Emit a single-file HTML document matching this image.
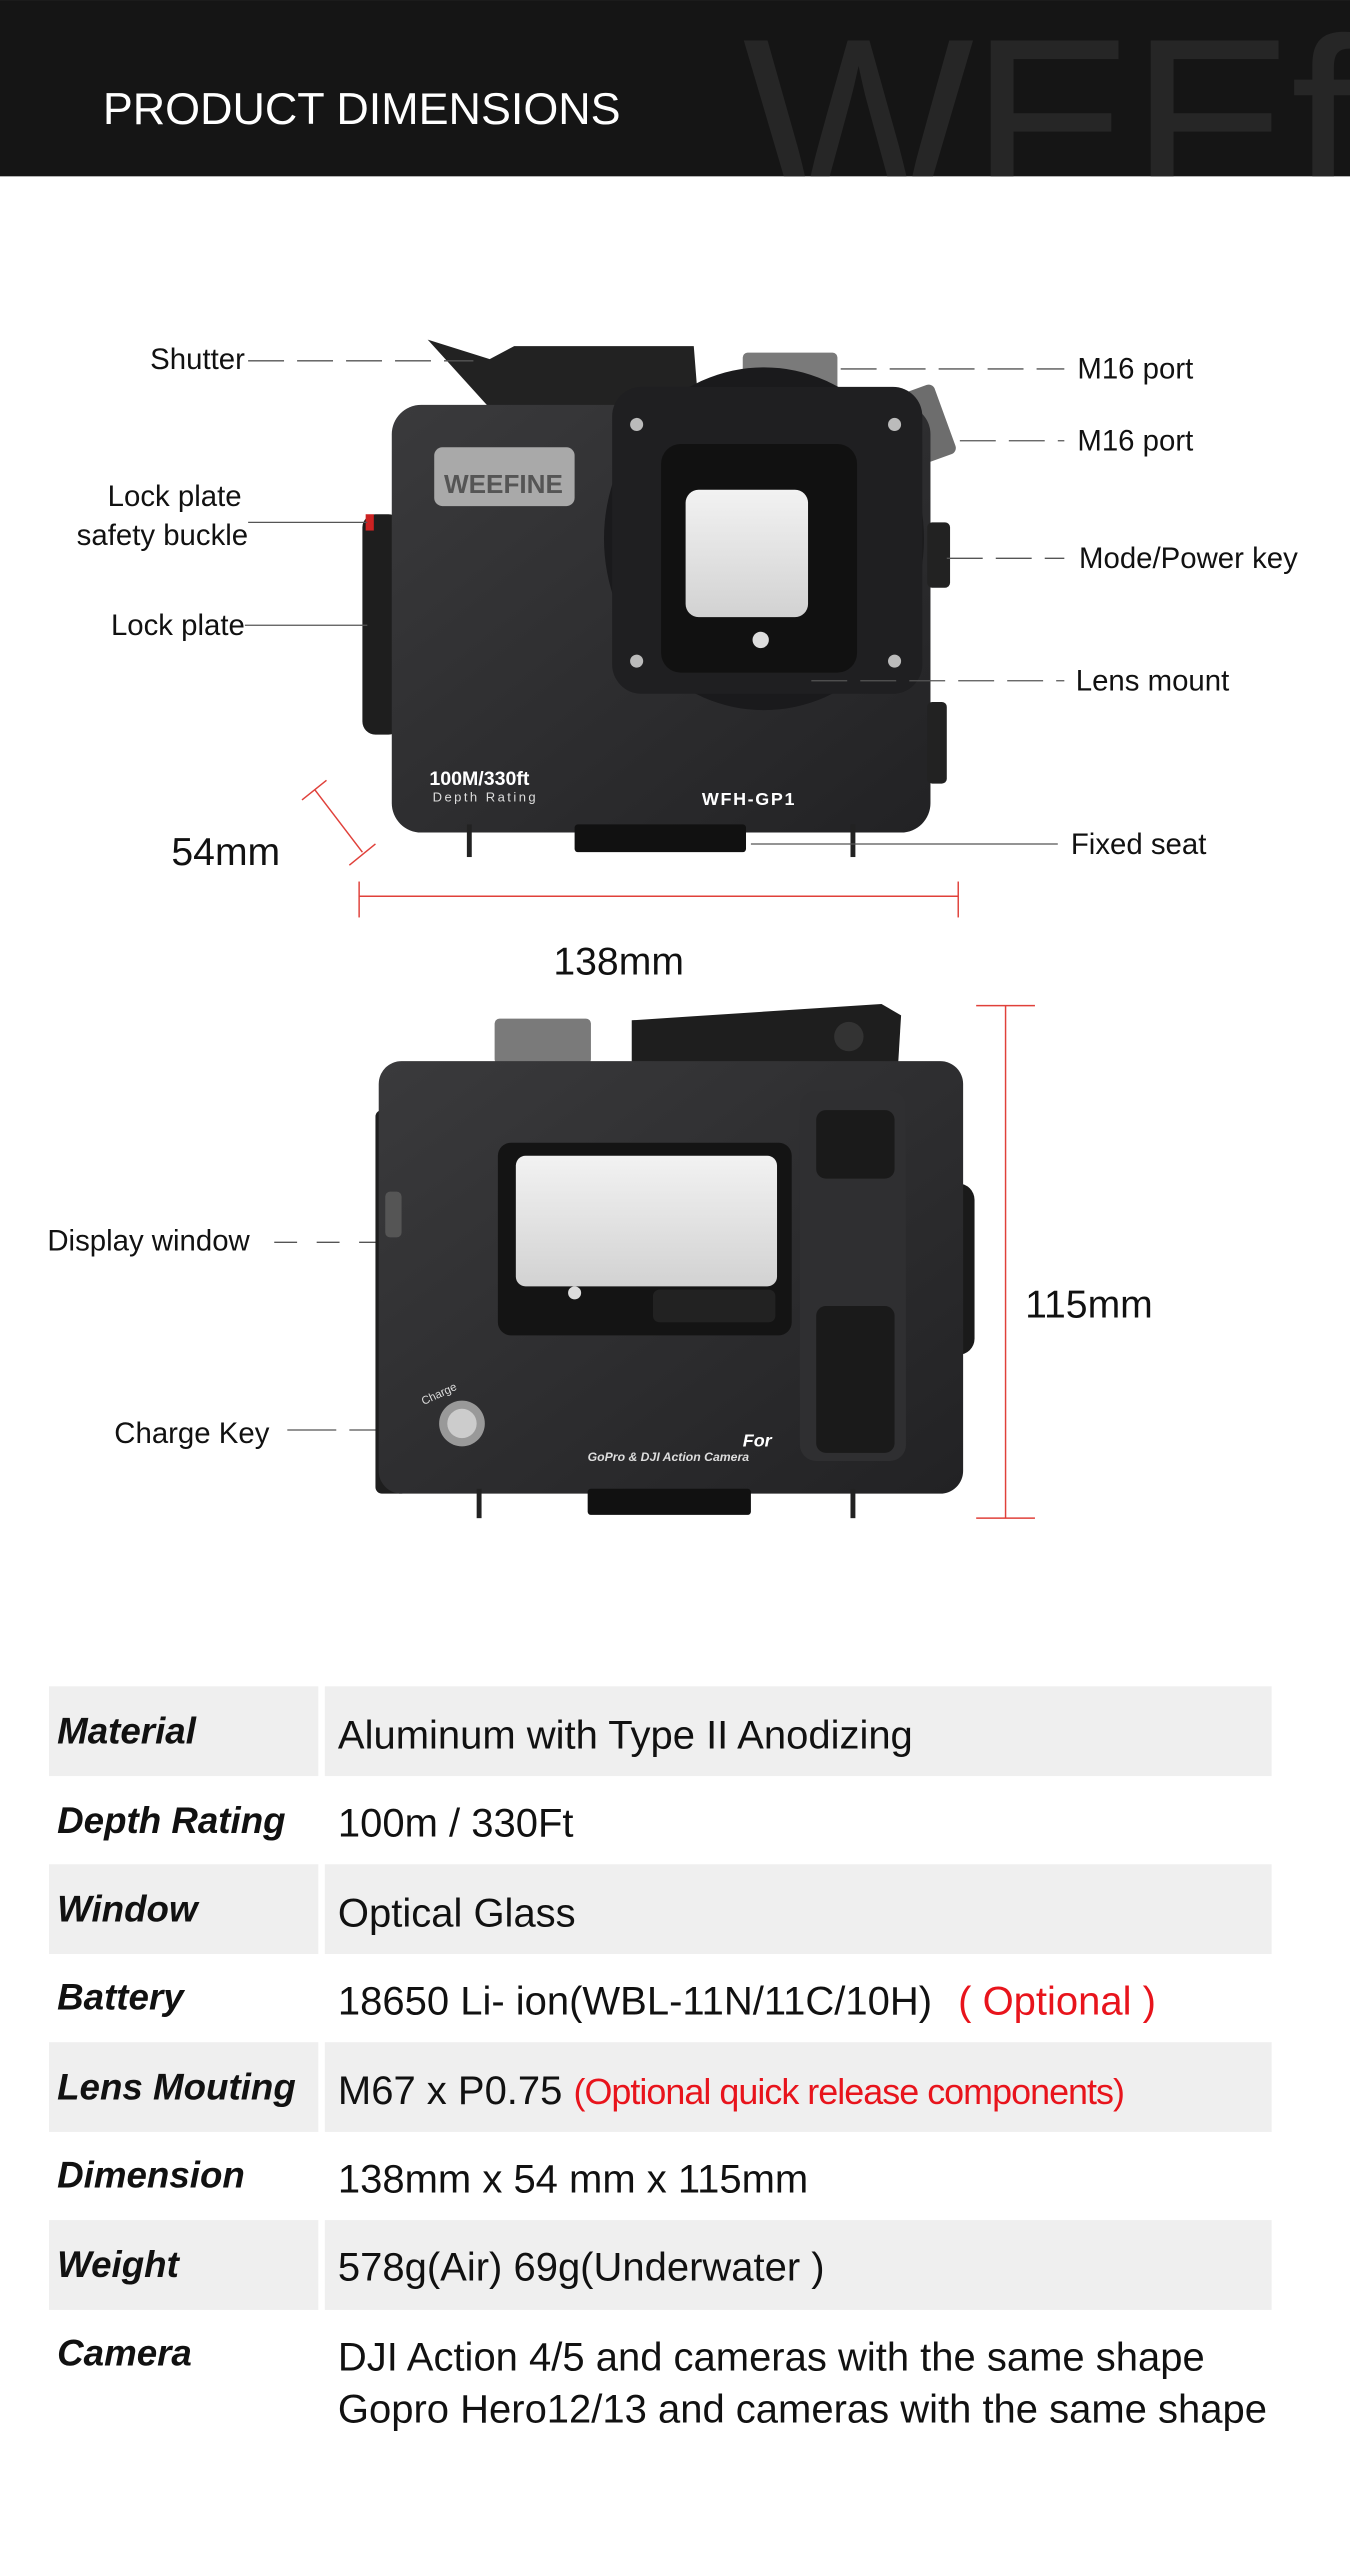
<!DOCTYPE html>
<html><head><meta charset="utf-8"><style>
html,body{margin:0;padding:0;background:#fff;}
svg{display:block;}
</style></head><body>
<svg width="1350" height="2560" viewBox="0 0 827 1568.2" xmlns="http://www.w3.org/2000/svg" font-family="Liberation Sans, sans-serif">
<defs>
<clipPath id="hc"><rect x="0" y="0" width="827" height="108"/></clipPath>
<linearGradient id="gl" x1="0" y1="0" x2="0" y2="1"><stop offset="0" stop-color="#f2f2f2"/><stop offset="1" stop-color="#d2d2d2"/></linearGradient>
<linearGradient id="bd" x1="0" y1="0" x2="1" y2="1"><stop offset="0" stop-color="#3a3a3c"/><stop offset="1" stop-color="#222224"/></linearGradient>
</defs>
<!-- header -->
<rect x="0" y="0" width="827" height="108" fill="#151515"/>
<g clip-path="url(#hc)"><text x="455" y="128" font-size="150" fill="#262626" letter-spacing="-2">WEEfi</text></g>
<text x="63" y="76" font-size="27.5" fill="#fff">PRODUCT DIMENSIONS</text>

<!-- camera 1 -->
<g>
<rect x="222" y="315" width="24" height="135" rx="8" fill="#1e1e1e"/>
<rect x="224" y="315" width="5" height="10" fill="#c22"/>
<path d="M262 208 L300 220 L315 212 L425 212 L428 250 L300 250 Z" fill="#222"/>
<rect x="455" y="216" width="58" height="24" rx="3" fill="#7a7a7a"/>
<rect x="540" y="240" width="40" height="45" rx="4" fill="#6d6d6d" transform="rotate(-20 560 262)"/>
<rect x="240" y="248" width="330" height="262" rx="18" fill="url(#bd)"/>
<rect x="568" y="320" width="14" height="40" rx="3" fill="#222"/>
<rect x="568" y="430" width="12" height="50" rx="3" fill="#222"/>
<rect x="266" y="274" width="86" height="36" rx="5" fill="#a9a9a9"/>
<text x="272" y="302" font-size="16" fill="#555" font-weight="bold">WEEFINE</text>
<ellipse cx="468" cy="330" rx="98" ry="105" fill="#1a1a1c"/>
<rect x="375" y="237" width="190" height="188" rx="18" fill="#1f1f21"/>
<rect x="405" y="272" width="120" height="140" rx="12" fill="#111"/>
<rect x="420" y="300" width="75" height="78" rx="8" fill="url(#gl)"/>
<circle cx="466" cy="392" r="5" fill="#ddd"/>
<circle cx="390" cy="260" r="4" fill="#bbb"/><circle cx="548" cy="260" r="4" fill="#bbb"/>
<circle cx="390" cy="405" r="4" fill="#bbb"/><circle cx="548" cy="405" r="4" fill="#bbb"/>
<text x="263" y="481" font-size="12" fill="#fff" font-weight="bold">100M/330ft</text>
<text x="265" y="491" font-size="8" fill="#ddd" letter-spacing="1.5">Depth Rating</text>
<text x="430" y="493" font-size="11" fill="#fff" font-weight="bold" letter-spacing="1">WFH-GP1</text>
<rect x="352" y="505" width="105" height="17" rx="2" fill="#111"/>
<rect x="286" y="505" width="3" height="20" fill="#222"/><rect x="521" y="505" width="3" height="20" fill="#222"/>
</g>

<!-- labels -->
<g font-size="18" fill="#111">
<text x="92" y="226">Shutter</text>
<text x="660" y="232">M16 port</text>
<text x="660" y="276">M16 port</text>
<text x="148" y="310" text-anchor="end">Lock plate</text>
<text x="152" y="334" text-anchor="end">safety buckle</text>
<text x="150" y="389" text-anchor="end">Lock plate</text>
<text x="661" y="348">Mode/Power key</text>
<text x="659" y="423">Lens mount</text>
<text x="656" y="523">Fixed seat</text>
<text x="29" y="766">Display window</text>
<text x="70" y="884">Charge Key</text>
</g>
<g stroke="#555" stroke-width="0.8" fill="none">
<line x1="152" y1="221" x2="290" y2="221" stroke-dasharray="22,8"/>
<line x1="515" y1="226" x2="652" y2="226" stroke-dasharray="22,8"/>
<line x1="588" y1="270" x2="652" y2="270" stroke-dasharray="22,8"/>
<line x1="152" y1="320" x2="225" y2="320"/>
<line x1="150" y1="383" x2="225" y2="383"/>
<line x1="580" y1="342" x2="652" y2="342" stroke-dasharray="22,8"/>
<line x1="497" y1="417" x2="652" y2="417" stroke-dasharray="22,8"/>
<line x1="460" y1="517" x2="648" y2="517"/>
<line x1="168" y1="761" x2="335" y2="761" stroke-dasharray="14,12"/>
<line x1="176" y1="876" x2="270" y2="876" stroke-dasharray="30,8"/>
</g>

<!-- dimension lines -->
<g stroke="#e0403a" stroke-width="0.9" fill="none">
<line x1="193" y1="484" x2="222" y2="522"/>
<line x1="185" y1="490" x2="200" y2="478"/>
<line x1="214" y1="530" x2="230" y2="517"/>
<line x1="220" y1="549" x2="587" y2="549"/>
<line x1="220" y1="540" x2="220" y2="562"/>
<line x1="587" y1="540" x2="587" y2="562"/>
<line x1="616" y1="616" x2="616" y2="930"/>
<line x1="598" y1="616" x2="634" y2="616"/>
<line x1="598" y1="930" x2="634" y2="930"/>
</g>
<g font-size="24" fill="#111">
<text x="105" y="530">54mm</text>
<text x="339" y="597">138mm</text>
<text x="628" y="807">115mm</text>
</g>

<!-- camera 2 -->
<g>
<rect x="303" y="624" width="59" height="28" rx="3" fill="#7a7a7a"/>
<path d="M387 625 L540 615 L552 622 L550 655 L387 655 Z" fill="#1e1e1e"/>
<circle cx="520" cy="635" r="9" fill="#333"/>
<rect x="570" y="725" width="27" height="105" rx="10" fill="#1a1a1a"/>
<rect x="230" y="680" width="20" height="235" rx="4" fill="#1e1e1e"/>
<rect x="232" y="650" width="358" height="265" rx="14" fill="url(#bd)"/>
<rect x="490" y="668" width="65" height="227" rx="10" fill="#2f2f31"/>
<rect x="500" y="680" width="48" height="42" rx="6" fill="#1a1a1a"/>
<rect x="500" y="800" width="48" height="90" rx="6" fill="#1a1a1a"/>
<rect x="305" y="700" width="180" height="118" rx="8" fill="#141414"/>
<rect x="316" y="708" width="160" height="80" rx="6" fill="url(#gl)"/>
<rect x="400" y="790" width="75" height="20" rx="4" fill="#222"/>
<circle cx="352" cy="792" r="4" fill="#ddd"/>
<rect x="236" y="730" width="10" height="28" rx="3" fill="#555"/>
<circle cx="283" cy="872" r="14" fill="#999"/>
<circle cx="283" cy="872" r="9" fill="#ccc"/>
<text x="258" y="858" font-size="7" fill="#ddd" transform="rotate(-25 265 856)">Charge</text>
<text x="455" y="886" font-size="11" fill="#fff" font-weight="bold" font-style="italic">For</text>
<text x="360" y="895" font-size="7.5" fill="#ddd" font-weight="bold" font-style="italic">GoPro &amp; DJI Action Camera</text>
<rect x="360" y="912" width="100" height="16" rx="2" fill="#111"/>
<rect x="292" y="912" width="3" height="18" fill="#222"/><rect x="521" y="912" width="3" height="18" fill="#222"/>
</g>

<!-- table -->
<g fill="#efefef">
<rect x="30" y="1033" width="165" height="55"/><rect x="199" y="1033" width="580" height="55"/>
<rect x="30" y="1142" width="165" height="55"/><rect x="199" y="1142" width="580" height="55"/>
<rect x="30" y="1251" width="165" height="55"/><rect x="199" y="1251" width="580" height="55"/>
<rect x="30" y="1360" width="165" height="55"/><rect x="199" y="1360" width="580" height="55"/>
</g>
<g font-size="22.5" font-weight="bold" font-style="italic" fill="#111">
<text x="35" y="1068">Material</text>
<text x="35" y="1123">Depth Rating</text>
<text x="35" y="1177">Window</text>
<text x="35" y="1231">Battery</text>
<text x="35" y="1286">Lens Mouting</text>
<text x="35" y="1340">Dimension</text>
<text x="35" y="1395">Weight</text>
<text x="35" y="1449">Camera</text>
</g>
<g font-size="24.5" fill="#111">
<text x="207" y="1071">Aluminum with Type II Anodizing</text>
<text x="207" y="1125">100m / 330Ft</text>
<text x="207" y="1180">Optical Glass</text>
<text x="207" y="1234">18650 Li- ion(WBL-11N/11C/10H)<tspan fill="#e8141c" dx="16">( Optional )</tspan></text>
<text x="207" y="1289">M67 x P0.75 <tspan fill="#e8141c" font-size="22" letter-spacing="-0.6">(Optional quick release components)</tspan></text>
<text x="207" y="1343">138mm x 54 mm x  115mm</text>
<text x="207" y="1397">578g(Air) 69g(Underwater )</text>
<text x="207" y="1452">DJI Action 4/5 and cameras with the same shape</text>
<text x="207" y="1484">Gopro Hero12/13 and cameras with the same shape</text>
</g>
</svg>
</body></html>
